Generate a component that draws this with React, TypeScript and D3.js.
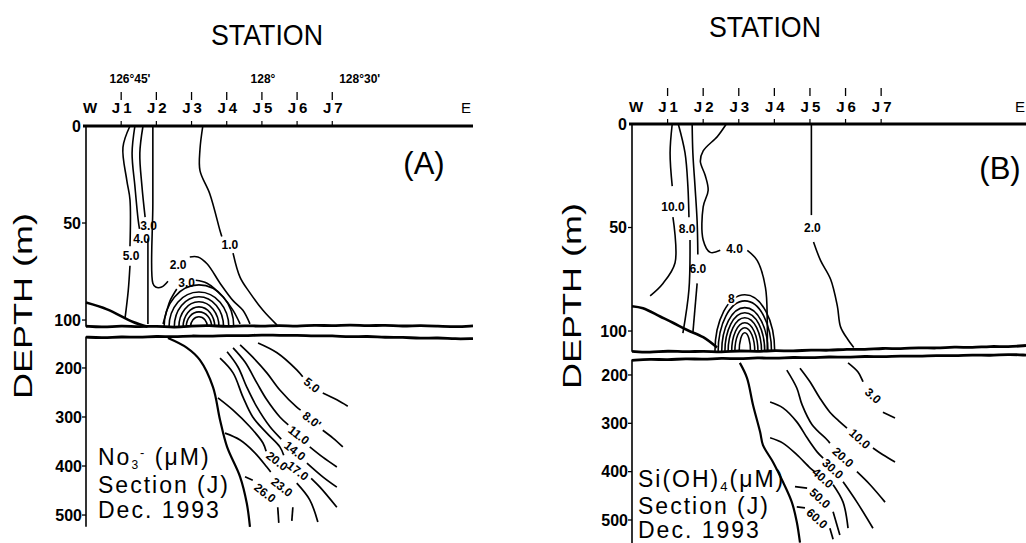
import * as d3 from "d3";

type Pt = [number, number];
type Seg = Pt[];

// station axis
const STATIONS = ["1", "2", "3", "4", "5", "6", "7"];
const LONGITUDES_A = ["126°45'", "128°", "128°30'"];
const LONGITUDE_POS_A = [1.25, 5.03, 7.78];
const UPPER_TICKS = [0, 50, 100];
const LOWER_TICKS = [200, 300, 400, 500];

// (A) nitrate, 0-100 m  [station, depth]
const aUp5: Seg[] = [[[1.25, 0], [1.05, 11], [1.16, 28], [1.25, 38], [1.25, 62]], [[1.25, 72], [1.2, 85], [1.11, 99]]];
const aUp4: Seg[] = [[[1.39, 0], [1.31, 14], [1.39, 31], [1.48, 48], [1.52, 53]]];
const aUp3: Seg[] = [[[1.62, 0], [1.53, 14], [1.59, 31], [1.68, 47]], [[1.76, 58], [1.76, 102]]];
const aUp2: Seg[] = [
  [[1.9, 0], [1.9, 40], [1.9, 81], [1.98, 83], [2.15, 83], [2.33, 80]],
  [[2.95, 67.5], [3.18, 67.5], [3.44, 71], [3.81, 81], [4.18, 90], [4.46, 95], [4.66, 102]],
];
const aUp3b: Seg[] = [
  [[2.19, 102], [2.3, 95], [2.39, 90], [2.58, 84]],
  [[3.12, 79.5], [3.44, 81], [3.89, 88], [4.18, 95], [4.38, 102]],
];
const aUp1: Seg[] = [
  [[3.32, 0], [3.24, 12], [3.24, 23], [3.52, 35], [3.81, 54], [3.86, 57]],
  [[4.18, 65.5], [4.38, 78], [4.66, 86], [5.03, 95], [5.43, 102.6]],
];
const aThick: Seg = [[0, 91], [0.6, 94.5], [1.34, 101], [1.75, 103.5]];
const aDomeHalf = [0.99, 0.85, 0.7, 0.57, 0.45, 0.36, 0.24];
const aDomeTop = [21.6, 18, 15.5, 12.9, 10.3, 7.7, 5.2];

// (A) nitrate, below 140 m
const aLo5: Seg[] = [[[4.89, 149], [5.43, 169], [5.99, 204], [6.16, 218]], [[6.73, 251], [7.13, 265], [7.44, 278]]];
const aLo8: Seg[] = [
  [[4.38, 153], [4.74, 178], [5.14, 210], [5.51, 245], [5.99, 280], [6.1, 286]],
  [[6.73, 327], [7.02, 343], [7.3, 361]],
];
const aLo11: Seg[] = [
  [[4.18, 159], [4.52, 188], [4.86, 231], [5.14, 265], [5.51, 300], [5.75, 316]],
  [[6.36, 361], [6.73, 382], [7.13, 402]],
];
const aLo14: Seg[] = [
  [[4.01, 167], [4.32, 198], [4.57, 239], [4.86, 280], [5.23, 320], [5.55, 345]],
  [[6.28, 394], [6.73, 422], [7.13, 443]],
];
const aLo17: Seg[] = [
  [[3.81, 180], [4.18, 210], [4.46, 259], [4.74, 300], [5.14, 333], [5.51, 361], [5.62, 378]],
  [[6.4, 425], [6.65, 443], [7.13, 484]],
];
const aLo20: Seg[] = [
  [[3.75, 261], [4.18, 286], [4.66, 320], [5.03, 353], [5.12, 370]],
  [[5.99, 435], [6.36, 469], [6.59, 514]],
];
const aLo23: Seg[] = [[[3.95, 333], [4.38, 347], [4.8, 373], [5.14, 402], [5.25, 412]], [[5.88, 484], [5.85, 512]]];
const aLo26: Seg[] = [[[4.52, 422], [4.74, 429]], [[5.45, 484], [5.48, 516]]];
const aLoThick: Seg = [[2.33, 139], [2.87, 159], [3.24, 184], [3.61, 239], [3.81, 306], [4.01, 361], [4.38, 422], [4.57, 476], [4.66, 524]];

// boundary of the broken depth axis (depth read every half station)
const aUpperEdge = [103.2, 103.8, 102.9, 103.6, 103.0, 103.9, 103.1, 102.7, 103.5, 102.8, 103.3, 102.6, 103.4, 102.5, 103.1, 102.4, 103.0, 102.6, 103.3, 102.7, 103.2, 103.6, 103.0];
const aLowerEdge = [137, 139, 136, 138, 135, 137, 134, 136, 133, 135, 132, 134, 133, 135, 134, 137, 135, 138, 137, 140, 138, 141, 140];

// (B) silicate, 0-110 m
const bUp10: Seg[] = [[[1.13, 0], [1.07, 14], [1.13, 30]], [[1.15, 45], [1.21, 67], [0.87, 77], [0.51, 83]]];
const bUp8: Seg[] = [[[1.3, 0], [1.49, 14], [1.57, 30], [1.6, 45]], [[1.63, 56], [1.6, 80], [1.43, 101]]];
const bUp6: Seg[] = [[[1.69, 0], [1.71, 14], [1.77, 30], [1.83, 47], [1.85, 63]], [[1.83, 77], [1.71, 101]]];
const bUp4: Seg[] = [
  [[2.65, 0], [2.4, 6], [2.0, 13], [1.92, 18], [2.06, 25], [2.14, 32], [2.0, 40], [2.0, 56], [2.2, 62], [2.48, 61]],
  [[3.24, 61], [3.52, 66], [3.75, 79], [3.8, 95], [3.8, 110]],
];
const bUp2: Seg[] = [[[5.04, 0], [5.04, 44]], [[5.1, 57], [5.3, 66], [5.58, 75], [5.77, 88], [5.86, 98], [6.06, 104], [6.23, 108]]];
const bThick: Seg = [[0, 88], [0.31, 89], [0.79, 93], [1.15, 96], [1.55, 99.5], [2.0, 103], [2.39, 108]];
const bDomeHalf = [0.84, 0.75, 0.65, 0.56, 0.47, 0.37, 0.28, 0.16];
const bDomeTop = [27.5, 24.6, 21.3, 18.8, 16.4, 14, 11.6, 9.2];

// (B) silicate, below 170 m
const bLo3: Seg[] = [[[6.07, 175], [6.35, 194], [6.49, 214]], [[7.05, 277], [7.39, 289]]];
const bLo10: Seg[] = [
  [[4.72, 186], [5.0, 214], [5.28, 248], [5.56, 277], [5.84, 297], [6.04, 310]],
  [[6.77, 351], [7.05, 365], [7.39, 380]],
];
const bLo20: Seg[] = [
  [[4.35, 190], [4.63, 227], [4.78, 262], [5.06, 303], [5.48, 334], [5.56, 341]],
  [[6.32, 400], [6.69, 427], [7.11, 463]],
];
const bLo30: Seg[] = [
  [[3.88, 256], [4.24, 268], [4.63, 297], [4.92, 330], [5.2, 359], [5.37, 372]],
  [[5.93, 421], [6.32, 463], [6.77, 517]],
];
const bLo40: Seg[] = [[[3.88, 330], [4.24, 341], [4.63, 365], [5.0, 392], [5.15, 401]], [[5.65, 427], [5.93, 463], [6.07, 517]]];
const bLo50: Seg[] = [[[4.58, 431], [4.92, 434]], [[5.65, 483], [5.84, 531]]];
const bLo60: Seg[] = [[[4.63, 473], [4.86, 475]], [[5.56, 517], [5.65, 540]]];
const bLoThick: Seg = [[3.03, 175], [3.23, 206], [3.4, 262], [3.6, 318], [3.68, 345], [3.96, 380], [4.24, 421], [4.49, 463], [4.63, 504], [4.72, 547]];

const bUpperEdge = [109.8, 110.4, 109.5, 110.2, 109.6, 110.3, 109.4, 110.0, 109.3, 109.8, 109.0, 109.5, 108.6, 109.1, 108.2, 108.7, 107.9, 108.4, 107.6, 108.1, 107.3, 107.7, 107.0];
const bLowerEdge = [170, 167, 169, 166, 168, 165, 167, 164, 166, 163, 165, 162, 164, 161, 163, 160, 162, 159, 161, 158, 160, 157, 159];

type Contour = { v: string; segs: Seg[]; at: Pt };

const A_UPPER: Contour[] = [
  { v: "5.0", segs: aUp5, at: [1.28, 67] },
  { v: "4.0", segs: aUp4, at: [1.58, 58] },
  { v: "3.0", segs: aUp3, at: [1.78, 51.5] },
  { v: "2.0", segs: aUp2, at: [2.62, 71.5] },
  { v: "3.0", segs: aUp3b, at: [2.86, 81] },
  { v: "1.0", segs: aUp1, at: [4.09, 61] },
];
const A_LOWER: Contour[] = [
  { v: "5.0", segs: aLo5, at: [6.42, 235] },
  { v: "8.0'", segs: aLo8, at: [6.42, 306] },
  { v: "11.0", segs: aLo11, at: [6.05, 337] },
  { v: "14.0", segs: aLo14, at: [5.94, 369] },
  { v: "17.0", segs: aLo17, at: [6.02, 410] },
  { v: "20.0", segs: aLo20, at: [5.43, 390] },
  { v: "23.0", segs: aLo23, at: [5.57, 443] },
  { v: "26.0", segs: aLo26, at: [5.09, 455] },
];
const B_UPPER: Contour[] = [
  { v: "10.0", segs: bUp10, at: [1.15, 40] },
  { v: "8.0", segs: bUp8, at: [1.55, 50.5] },
  { v: "6.0", segs: bUp6, at: [1.85, 70] },
  { v: "4.0", segs: bUp4, at: [2.88, 60.5] },
  { v: "2.0", segs: bUp2, at: [5.07, 50] },
];
const B_LOWER: Contour[] = [
  { v: "3.0", segs: bLo3, at: [6.77, 243] },
  { v: "10.0", segs: bLo10, at: [6.4, 332] },
  { v: "20.0", segs: bLo20, at: [5.93, 370] },
  { v: "30.0", segs: bLo30, at: [5.64, 394] },
  { v: "40.0", segs: bLo40, at: [5.36, 413] },
  { v: "50.0", segs: bLo50, at: [5.28, 455] },
  { v: "60.0", segs: bLo60, at: [5.2, 497] },
];

const SANS = "'Liberation Sans', Arial, sans-serif";

type Layout = {
  x: [number, number]; xMax: number; eAt: number;
  up: [number, number]; upDom: [number, number];
  lo: [number, number]; loDom: [number, number];
  domeC: number; domeB: number;
  titleX: number; titleY: number; stationY: number; primeY: number;
  tagX: number; tagY: number; tag: string;
  depthX: number; depthY: number;
  noteX: number; noteY: number[];
  lowRot: number;
};

const LAYOUT_A: Layout = {
  x: [86, 473], xMax: 11, eAt: 10.8,
  up: [126, 327.8], upDom: [0, 104],
  lo: [336.6, 526.8], loDom: [136, 524],
  domeC: 3.21, domeB: 103.5,
  titleX: 267, titleY: 45, stationY: 113, primeY: 92,
  tagX: 424, tagY: 174, tag: "(A)",
  depthX: 32, depthY: 306,
  noteX: 98, noteY: [465, 493, 518],
  lowRot: 38,
};
const LAYOUT_B: Layout = {
  x: [632, 1026], xMax: 11.07, eAt: 10.9,
  up: [124, 353.8], upDom: [0, 111],
  lo: [359.5, 543.2], loDom: [168, 548],
  domeC: 3.17, domeB: 110,
  titleX: 765, titleY: 37, stationY: 112, primeY: 88,
  tagX: 1000, tagY: 179, tag: "(B)",
  depthX: 581, depthY: 296,
  noteX: 638, noteY: [487, 514, 538],
  lowRot: 42,
};

function Panel(props: {
  L: Layout; upper: Contour[]; lower: Contour[]; thick: Seg; loThick: Seg;
  upperEdge: number[]; lowerEdge: number[]; domeHalf: number[]; domeTop: number[];
  domeLabel?: string; longitudes?: boolean; note: "no3" | "si";
}) {
  const { L } = props;
  const x = d3.scaleLinear().domain([0, L.xMax]).range(L.x);
  const yU = d3.scaleLinear().domain(L.upDom).range(L.up);
  const yL = d3.scaleLinear().domain(L.loDom).range(L.lo);
  const lineU = d3.line<Pt>().x(d => x(d[0])).y(d => yU(d[1])).curve(d3.curveCatmullRom);
  const lineL = d3.line<Pt>().x(d => x(d[0])).y(d => yL(d[1])).curve(d3.curveCatmullRom);
  const edgeLine = (vals: number[], y: d3.ScaleLinear<number, number>) =>
    d3.line<number>().x((_, i) => x((i * L.xMax) / (vals.length - 1))).y(d => y(d)).curve(d3.curveBasis)(vals) || "";

  const yb = yU(L.domeB);
  const top0 = yU(0);

  return (
    <g fontFamily={SANS} fill="#000">
      {/* titles */}
      <text x={L.titleX} y={L.titleY} textAnchor="middle" fontSize={29} textLength={112} lengthAdjust="spacingAndGlyphs">STATION</text>
      <text x={L.tagX} y={L.tagY} textAnchor="middle" fontSize={31}>{L.tag}</text>
      <text transform={`translate(${L.depthX},${L.depthY}) rotate(-90)`} textAnchor="middle" fontSize={26}
        textLength={186} lengthAdjust="spacingAndGlyphs">DEPTH (m)</text>

      {/* station axis */}
      <line x1={x(0) - 3} x2={x(L.xMax)} y1={top0} y2={top0} stroke="#000" strokeWidth={3.2} />
      <text x={x(0) - 3} y={L.stationY} fontSize={15} fontWeight="bold">W</text>
      <text x={x(L.eAt)} y={L.stationY} fontSize={15} textAnchor="middle">E</text>
      {STATIONS.map((s, i) => {
        const sx = x(i + 1);
        return (
          <g key={s}>
            <line x1={sx} x2={sx} y1={top0} y2={top0 - 5} stroke="#000" strokeWidth={1.2} />
            <line x1={sx} x2={sx} y1={L.primeY} y2={L.primeY + 8} stroke="#000" strokeWidth={1.3} />
            <text x={sx - 1} y={L.stationY} fontSize={15} fontWeight="bold" textAnchor="end">J</text>
            <text x={sx + 2} y={L.stationY} fontSize={15} fontWeight="bold">{s}</text>
          </g>
        );
      })}
      {props.longitudes && LONGITUDES_A.map((t, i) => (
        <text key={t} x={x(LONGITUDE_POS_A[i])} y={83} fontSize={12} fontWeight="bold" textAnchor="middle">{t}</text>
      ))}

      {/* depth axis, two pieces */}
      <line x1={x(0)} x2={x(0)} y1={top0} y2={yU(L.domeB)} stroke="#000" strokeWidth={1.6} />
      <line x1={x(0)} x2={x(0)} y1={yL(L.loDom[0])} y2={yL(L.loDom[1])} stroke="#000" strokeWidth={1.6} />
      {UPPER_TICKS.map(t => (
        <g key={t}>
          {t > 0 && <line x1={x(0) - 4} x2={x(0)} y1={yU(t)} y2={yU(t)} stroke="#000" strokeWidth={1.3} />}
          <text x={x(0) - 5} y={yU(t)} dy="0.36em" fontSize={16} fontWeight="bold" textAnchor="end">{t}</text>
        </g>
      ))}
      {LOWER_TICKS.map(t => (
        <g key={t}>
          <line x1={x(0) - 4} x2={x(0)} y1={yL(t)} y2={yL(t)} stroke="#000" strokeWidth={1.3} />
          <text x={x(0) - 4} y={yL(t)} dy="0.36em" fontSize={16} fontWeight="bold" textAnchor="end">{t}</text>
        </g>
      ))}

      {/* broken axis edges */}
      <path d={edgeLine(props.upperEdge, yU)} fill="none" stroke="#000" strokeWidth={2.8} />
      <path d={edgeLine(props.lowerEdge, yL)} fill="none" stroke="#000" strokeWidth={2.8} />

      {/* thick lines */}
      <path d={lineU(props.thick) || ""} fill="none" stroke="#000" strokeWidth={2.6} />
      <path d={lineL(props.loThick) || ""} fill="none" stroke="#000" strokeWidth={2.2} />

      {/* dome of closed contours */}
      {props.domeHalf.map((w, i) => {
        const x0 = x(L.domeC - w);
        const x1 = x(L.domeC + w);
        const rx = (x1 - x0) / 2;
        const ry = yb - yU(L.domeB - props.domeTop[i]);
        return <path key={i} d={`M${x0},${yb} A${rx},${ry} 0 0 1 ${x1},${yb}`} fill="none" stroke="#000" strokeWidth={1.6} />;
      })}
      {props.domeLabel && (
        <text x={x(L.domeC - props.domeHalf[0] * 0.45)} y={yU(L.domeB - props.domeTop[0] * 0.93)} fontSize={12}
          fontWeight="bold" textAnchor="middle" dy="0.35em" stroke="#fff" strokeWidth={4} paintOrder="stroke">{props.domeLabel}</text>
      )}

      {/* contours */}
      {props.upper.map((c, i) => (
        <g key={"u" + i}>
          {c.segs.map((s, j) => <path key={j} d={lineU(s) || ""} fill="none" stroke="#000" strokeWidth={1.6} />)}
          <text x={x(c.at[0])} y={yU(c.at[1])} dy="0.35em" fontSize={12} fontWeight="bold" textAnchor="middle">{c.v}</text>
        </g>
      ))}
      {props.lower.map((c, i) => (
        <g key={"l" + i}>
          {c.segs.map((s, j) => <path key={j} d={lineL(s) || ""} fill="none" stroke="#000" strokeWidth={1.7} />)}
          <text transform={`translate(${x(c.at[0])},${yL(c.at[1])}) rotate(${L.lowRot})`} dy="0.35em" fontSize={12}
            fontWeight="bold" textAnchor="middle">{c.v}</text>
        </g>
      ))}

      {/* caption */}
      <g fontSize={23} letterSpacing={2}>
        {props.note === "no3" ? (
          <text x={L.noteX} y={L.noteY[0]}>No<tspan fontSize={12} dy={4}>3</tspan><tspan fontSize={13} dy={-12}>-</tspan><tspan dy={8}> (μM)</tspan></text>
        ) : (
          <text x={L.noteX} y={L.noteY[0]}>Si(OH)<tspan fontSize={13} dy={4}>4</tspan><tspan dy={-4}>(μM)</tspan></text>
        )}
        <text x={L.noteX} y={L.noteY[1]}>Section (J)</text>
        <text x={L.noteX} y={L.noteY[2]}>Dec. 1993</text>
      </g>
    </g>
  );
}

export default function App() {
  return (
    <svg width={1026} height={543} style={{ position: "absolute", left: 0, top: 0, background: "#fff" }}>
      <Panel L={LAYOUT_A} upper={A_UPPER} lower={A_LOWER} thick={aThick} loThick={aLoThick}
        upperEdge={aUpperEdge} lowerEdge={aLowerEdge} domeHalf={aDomeHalf} domeTop={aDomeTop}
        longitudes note="no3" />
      <Panel L={LAYOUT_B} upper={B_UPPER} lower={B_LOWER} thick={bThick} loThick={bLoThick}
        upperEdge={bUpperEdge} lowerEdge={bLowerEdge} domeHalf={bDomeHalf} domeTop={bDomeTop}
        domeLabel="8" note="si" />
    </svg>
  );
}
